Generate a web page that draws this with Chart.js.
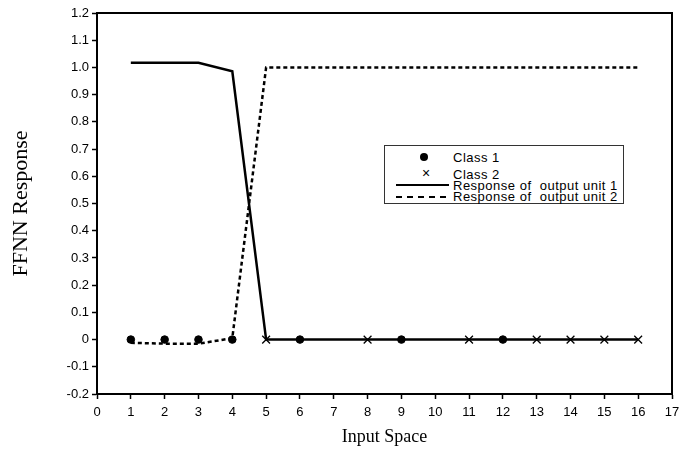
<!DOCTYPE html>
<html>
<head>
<meta charset="utf-8">
<script src="https://cdn.jsdelivr.net/npm/chart.js@4.4.0/dist/chart.umd.min.js"></script>
<style>
  html, body { margin: 0; padding: 0; background: #fff; }
  #wrap { position: relative; width: 689px; height: 460px; }
  #legend {
    position: absolute; left: 384px; top: 145px; width: 238px; height: 57px;
    border: 1px solid #333; background: #fff;
    font-family: "Liberation Sans", Arial, sans-serif; font-size: 13px; letter-spacing: 0.5px; color: #000;
  }
  #legend .row { position: absolute; left: 0; width: 100%; height: 13px; line-height: 13px; }
  #legend .txt { position: absolute; left: 68px; white-space: pre; }
  #legend .sym { position: absolute; }
</style>
</head>
<body>
<div id="wrap">
  <canvas id="chart" width="689" height="460"></canvas>
  <div id="legend"></div>
</div>
<script>
// data
const inputs = [1, 2, 3, 4, 5, 6, 7, 8, 9, 10, 11, 12, 13, 14, 15, 16];
const unit1 = [1.017, 1.017, 1.017, 0.986, 0, 0, 0, 0, 0, 0, 0, 0, 0, 0, 0, 0];
const unit2 = [-0.012, -0.015, -0.015, 0.005, 1.0, 1.0, 1.0, 1.0, 1.0, 1.0, 1.0, 1.0, 1.0, 1.0, 1.0, 1.0];
const class1X = [1, 2, 3, 4, 6, 9, 12];
const class2X = [5, 8, 11, 13, 14, 15, 16];

const legendLabels = ["Class 1", "Class 2", "Response of  output unit 1", "Response of  output unit 2"];

const toPts = (xs, ys) => xs.map((x, i) => ({ x: x, y: ys[i] }));

const tickFont = { family: "'Liberation Sans', Arial, sans-serif", size: 13 };

// box round the plot area
const frame = {
  id: "frame",
  afterDatasetsDraw(chart) {
    const { ctx, chartArea: a } = chart;
    ctx.save();
    ctx.strokeStyle = "#000";
    ctx.lineWidth = 2;
    ctx.strokeRect(a.left, a.top, a.right - a.left, a.bottom - a.top);
    ctx.restore();
  }
};

new Chart(document.getElementById("chart"), {
  type: "line",
  data: {
    datasets: [
      {
        label: legendLabels[0],
        data: toPts(class1X, class1X.map(() => 0)),
        showLine: false,
        pointStyle: "circle",
        pointRadius: 3.8,
        backgroundColor: "#000",
        borderColor: "#000",
        order: 0
      },
      {
        label: legendLabels[1],
        data: toPts(class2X, class2X.map(() => 0)),
        showLine: false,
        pointStyle: "crossRot",
        pointRadius: 5.5,
        borderWidth: 1.3,
        borderColor: "#000",
        order: 1
      },
      {
        label: legendLabels[2],
        data: toPts(inputs, unit1),
        borderColor: "#000",
        borderWidth: 2.5,
        pointRadius: 0,
        tension: 0,
        order: 2
      },
      {
        label: legendLabels[3],
        data: toPts(inputs, unit2),
        borderColor: "#000",
        borderWidth: 2.5,
        borderDash: [4, 3],
        pointRadius: 0,
        tension: 0,
        order: 3
      }
    ]
  },
  options: {
    responsive: false,
    animation: false,
    layout: { padding: { left: 0, right: 17, top: 13, bottom: 0 } },
    plugins: { legend: { display: false }, tooltip: { enabled: false } },
    scales: {
      x: {
        type: "linear",
        min: 0, max: 17,
        afterFit: s => { s.height = 66; },
        border: { color: "#000", width: 2 },
        grid: { drawOnChartArea: false, tickLength: 5, color: "#000", tickWidth: 1.5 },
        ticks: { stepSize: 1, color: "#000", font: tickFont, padding: 6, maxRotation: 0 },
        title: {
          display: true, text: "Input Space", color: "#000",
          font: { family: "'Liberation Serif', 'Times New Roman', serif", size: 18 },
          padding: { top: 0, bottom: 12 }
        }
      },
      y: {
        min: -0.2, max: 1.2,
        afterFit: s => { s.width = 97; },
        border: { color: "#000", width: 2 },
        grid: { drawOnChartArea: false, tickLength: 5, color: "#000", tickWidth: 1.5 },
        ticks: {
          stepSize: 0.1, color: "#000", font: tickFont, padding: 3,
          callback: v => Math.abs(v) < 1e-9 ? "0" : v.toFixed(1)
        },
        title: {
          display: true, text: "FFNN Response", color: "#000",
          font: { family: "'Liberation Serif', 'Times New Roman', serif", size: 22 },
          padding: { top: 8, bottom: 0 }
        }
      }
    }
  },
  plugins: [frame]
});

// legend inside the plot
const legend = document.getElementById("legend");
const rowTops = [5, 22, 33, 44];
const symbols = [
  '<span class="sym" style="left:35px;top:2px;width:8px;height:8px;border-radius:50%;background:#000"></span>',
  '<span class="sym" style="left:37px;top:-1px;font-size:14px">\u00d7</span>',
  '<span class="sym" style="left:11px;top:5px;width:53px;border-top:2px solid #000"></span>',
  '<span class="sym" style="left:11px;top:6px;width:50px;border-top:2px dashed #000"></span>'
];
legendLabels.forEach((label, i) => {
  const row = document.createElement("div");
  row.className = "row";
  row.style.top = rowTops[i] + "px";
  row.innerHTML = symbols[i] + '<span class="txt">' + label + '</span>';
  legend.appendChild(row);
});
</script>
</body>
</html>
